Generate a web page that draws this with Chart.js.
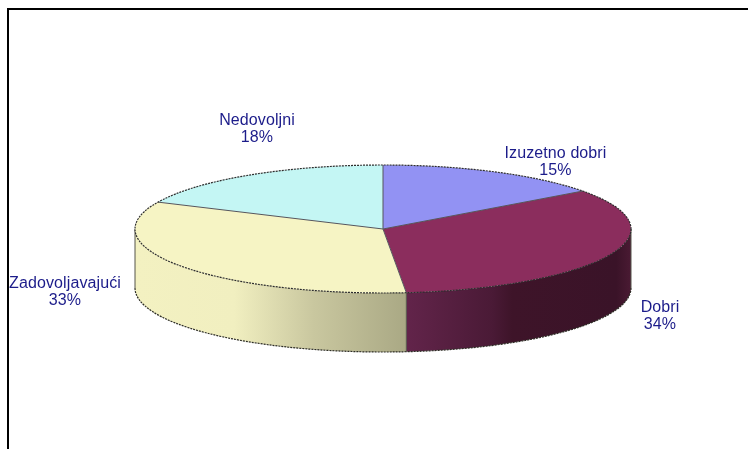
<!DOCTYPE html>
<html>
<head>
<meta charset="utf-8">
<style>
html,body{margin:0;padding:0;background:#fff;overflow:hidden}
#wrap{position:relative;width:748px;height:449px}
#frame{position:absolute;left:7px;top:8px;right:0;bottom:0;border-left:2px solid #000;border-top:2px solid #000;pointer-events:none}
canvas{position:absolute;left:0;top:0}
</style>
<script src="https://cdn.jsdelivr.net/npm/chart.js@4"></script>
</head>
<body>
<div id="wrap"><canvas id="c" width="748" height="449"></canvas><div id="frame"></div></div>
<script>
const categories = ["Izuzetno dobri", "Dobri", "Zadovoljavajući", "Nedovoljni"];
const shares = [14.9, 33.6, 33.4, 18.1];
const topColors = ["#9292f3", "#8b2d5d", "#f6f4c4", "#c4f6f4"];

const RX = 248, RY = 64, DEPTH = 59;
const labelCentres = [[555.5, 154], [660, 308], [65, 284], [257, 121]];
const wallStops = {
  1: [[0.55, "#62244a"], [0.72, "#4a1a36"], [0.76, "#3e1429"], [0.97, "#3a1328"], [1, "#4a1a33"]],
  2: [[0, "#f3f1c1"], [0.2, "#f1efc0"], [0.36, "#c9c79f"], [0.55, "#a9a884"]]
};

const tilt3d = {
  id: "tilt3d",
  beforeDatasetsDraw(chart) {
    const ctx = chart.ctx, arcs = chart.getDatasetMeta(0).data;
    const cx = arcs[0].x, cy = arcs[0].y;
    arcs.forEach((a, i) => {
      if (!wallStops[i]) return;
      const s = Math.max(a.startAngle, 0), e = Math.min(a.endAngle, Math.PI);
      const g = ctx.createLinearGradient(cx - RX, 0, cx + RX, 0);
      wallStops[i].forEach(st => g.addColorStop(st[0], st[1]));
      ctx.beginPath();
      ctx.ellipse(cx, cy, RX, RY, 0, s, e);
      ctx.ellipse(cx, cy + DEPTH, RX, RY, 0, e, s, true);
      ctx.closePath();
      ctx.fillStyle = g;
      ctx.fill();
      ctx.strokeStyle = "#2e2e26";
      ctx.lineWidth = 1.2;
      ctx.beginPath();
      ctx.ellipse(cx, cy + DEPTH, RX, RY, 0, s, e);
      ctx.setLineDash([2, 1]);
      ctx.stroke();
      ctx.setLineDash([]);
    });
    ctx.strokeStyle = "#55554a";
    ctx.lineWidth = 1;
    [[cx - RX, cy], [cx + RX, cy]].forEach(p => {
      ctx.beginPath();
      ctx.moveTo(p[0], p[1]);
      ctx.lineTo(p[0], p[1] + DEPTH);
      ctx.stroke();
    });
    const seam = arcs[1].endAngle;
    ctx.beginPath();
    ctx.moveTo(cx + RX * Math.cos(seam), cy + RY * Math.sin(seam));
    ctx.lineTo(cx + RX * Math.cos(seam), cy + RY * Math.sin(seam) + DEPTH);
    ctx.stroke();

    const R = arcs[0].outerRadius;
    ctx.save();
    ctx.translate(cx, cy);
    ctx.scale(RX / R, RY / R);
    ctx.translate(-cx, -cy);
  },
  afterDatasetsDraw(chart) {
    const ctx = chart.ctx, arcs = chart.getDatasetMeta(0).data;
    ctx.restore();
    const cx = arcs[0].x, cy = arcs[0].y;
    ctx.lineWidth = 1;
    ctx.strokeStyle = "#55555c";
    arcs.forEach(a => {
      ctx.beginPath();
      ctx.moveTo(cx, cy);
      ctx.lineTo(cx + RX * Math.cos(a.startAngle), cy + RY * Math.sin(a.startAngle));
      ctx.stroke();
    });
    ctx.setLineDash([2, 1]);
    ctx.lineWidth = 1.2;
    ctx.strokeStyle = "#2e2e2e";
    ctx.beginPath();
    ctx.ellipse(cx, cy, RX, RY, 0, 0, Math.PI * 2);
    ctx.stroke();
    ctx.setLineDash([]);

    ctx.fillStyle = "#1c1c8a";
    ctx.font = "16px 'Liberation Sans', Arial, sans-serif";
    ctx.letterSpacing = "0.1px";
    ctx.textAlign = "center";
    ctx.textBaseline = "middle";
    categories.forEach((name, i) => {
      const p = labelCentres[i];
      ctx.fillText(name, p[0], p[1]);
      ctx.fillText(Math.round(shares[i]) + "%", p[0], p[1] + 17);
    });
  }
};

new Chart(document.getElementById("c"), {
  type: "pie",
  data: {
    labels: categories,
    datasets: [{ data: shares, backgroundColor: topColors, borderWidth: 0, clip: false }]
  },
  options: {
    responsive: false,
    animation: false,
    layout: { padding: { left: 18, top: 9 } },
    plugins: { legend: { display: false }, tooltip: { enabled: false } }
  },
  plugins: [tilt3d]
});
</script>
</body>
</html>
